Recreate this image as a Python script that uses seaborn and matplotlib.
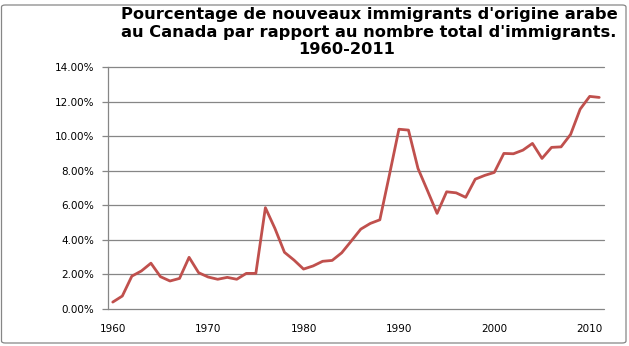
import matplotlib
matplotlib.use("Agg")
import matplotlib.pyplot as plt
import seaborn as sns
import pandas as pd
from matplotlib.patches import FancyBboxPatch
from matplotlib.ticker import FuncFormatter, MultipleLocator

years = list(range(1960, 2012))
percent = [0.40, 0.75, 1.90, 2.20, 2.65, 1.87, 1.62, 1.77, 2.99, 2.10,
           1.85, 1.72, 1.83, 1.72, 2.06, 2.06, 5.86, 4.66, 3.28, 2.83,
           2.31, 2.49, 2.76, 2.81, 3.25, 3.93, 4.62, 4.95, 5.16, 7.75,
           10.40, 10.35, 8.13, 6.84, 5.53, 6.78, 6.72, 6.46, 7.51, 7.73,
           7.90, 9.00, 8.98, 9.19, 9.58, 8.71, 9.35, 9.38, 10.10, 11.56,
           12.30, 12.24]
title_lines = ["Pourcentage de nouveaux immigrants d'origine arabe",
               "au Canada par rapport au nombre total d'immigrants.",
               "1960-2011"]

df = pd.DataFrame({"year": years, "pct": percent})

sns.set_style("white")
plt.rcParams["font.family"] = ["DejaVu Sans"]
plt.rcParams["text.color"] = "black"
plt.rcParams["xtick.color"] = "black"
plt.rcParams["ytick.color"] = "black"

fig = plt.figure(figsize=(6.29, 3.46), dpi=100)
W, H = 629, 346
ax = fig.add_axes([108 / W, 1 - 309 / H, (604 - 108) / W, (309 - 67) / H])

sns.lineplot(data=df, x="year", y="pct", ax=ax, color="#C0504D", linewidth=2.0,
             zorder=3)

ax.set_xlim(1959.5, 2011.5)
ax.set_ylim(0, 14)
ax.yaxis.set_major_locator(MultipleLocator(2))
ax.xaxis.set_major_locator(MultipleLocator(10))
ax.yaxis.set_major_formatter(FuncFormatter(lambda v, p: f"{v:.2f}%"))
ax.grid(axis="y", color="#868686", linewidth=0.9)
for gl in ax.yaxis.get_gridlines():
    gl.set_clip_on(False)
ax.set_axisbelow(True)
for s in ["top", "right", "bottom"]:
    ax.spines[s].set_visible(False)
ax.spines["left"].set_color("#868686")
ax.spines["left"].set_linewidth(0.9)
ax.tick_params(axis="y", which="major", length=4, width=0.9, color="#868686",
               labelcolor="black", labelsize=7.5, pad=6, left=True)
ax.tick_params(axis="x", length=0, labelsize=7.5, pad=11, labelcolor="black")
ax.set_xlabel("")
ax.set_ylabel("")

fs = 11.7
fig.text(369 / W, 1 - 14 / H, title_lines[0], ha="center", va="center",
         fontsize=fs, fontweight="bold", color="black")
fig.text(369 / W, 1 - 32 / H, title_lines[1], ha="center", va="center",
         fontsize=fs, fontweight="bold", color="black")
fig.text(347 / W, 1 - 50 / H, title_lines[2], ha="center", va="center",
         fontsize=fs, fontweight="bold", color="black")

border = FancyBboxPatch((1.5 / W, 3 / H), (626 - 1.5) / W, (344 - 6) / H,
                        boxstyle="round,pad=0,rounding_size=0.006",
                        transform=fig.transFigure, facecolor="none",
                        edgecolor="#868686", linewidth=0.9)
fig.patches.append(border)

fig.savefig("out.png", dpi=100)
